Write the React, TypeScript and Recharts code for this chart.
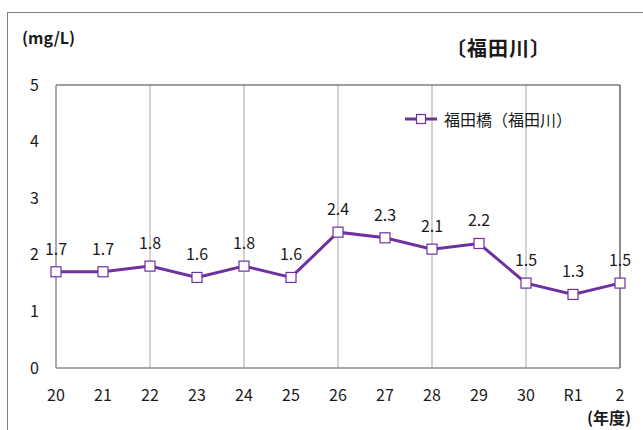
import { LineChart, Line, XAxis, YAxis, ReferenceLine, Legend, LabelList } from 'recharts'

const years = ['20', '21', '22', '23', '24', '25', '26', '27', '28', '29', '30', 'R1', '2']
const values = [1.7, 1.7, 1.8, 1.6, 1.8, 1.6, 2.4, 2.3, 2.1, 2.2, 1.5, 1.3, 1.5]
const yTicks = [0, 1, 2, 3, 4, 5]
const gridYears = ['22', '24', '26', '28', '30']
const seriesName = '福田橋（福田川）'

const data = years.map((year, i) => ({ year, value: values[i] }))

const FONT = "'Noto Sans CJK JP', 'Noto Sans', sans-serif"
const PURPLE = '#7030A0'
const TEXT = '#1a1a1a'

const SquareDot = (props: any) => {
  const { cx, cy } = props
  if (cx == null || cy == null) return null
  return <rect x={cx - 5} y={cy - 5} width={10} height={10} fill="#fff" stroke={PURPLE} strokeWidth={1.2} />
}

const LegendContent = () => (
  <div style={{ display: 'flex', alignItems: 'center', fontFamily: FONT, fontSize: 16, color: TEXT }}>
    <svg width={34} height={14} style={{ marginRight: 6 }}>
      <line x1={1} y1={7} x2={33} y2={7} stroke={PURPLE} strokeWidth={3} />
      <rect x={12.5} y={2.5} width={9} height={9} fill="#fff" stroke={PURPLE} strokeWidth={1.2} />
    </svg>
    <span>{seriesName}</span>
  </div>
)

const App = () => {
  return (
    <div style={{ position: 'absolute', left: 0, top: 0, width: 643, height: 430, overflow: 'hidden', background: '#fff' }}>
      <div style={{ position: 'absolute', left: 7, top: 12, width: 700, height: 500, border: '1px solid #808080' }} />
      <div style={{ position: 'absolute', left: 22, top: 25, fontFamily: FONT, fontSize: 16, fontWeight: 'bold', color: TEXT }}>
        (mg/L)
      </div>
      <div style={{ position: 'absolute', left: 446, top: 33, fontFamily: FONT, fontSize: 20, fontWeight: 'bold', color: TEXT, letterSpacing: 1 }}>
        〔福田川〕
      </div>
      <div style={{ position: 'absolute', left: 587, top: 405, fontFamily: FONT, fontSize: 16, fontWeight: 'bold', color: TEXT }}>
        (年度)
      </div>
      <LineChart
        width={643}
        height={430}
        data={data}
        margin={{ top: 85, right: 23, left: 0, bottom: 32 }}
        style={{ position: 'absolute', left: 0, top: 0 }}
      >
        <XAxis
          dataKey="year"
          height={30}
          tickSize={0}
          tickMargin={22}
          axisLine={{ stroke: '#8c8c8c', strokeWidth: 1.5 }}
          tick={{ fill: TEXT, fontSize: 16, fontFamily: FONT }}
          interval={0}
        />
        <YAxis
          width={56}
          domain={[0, 5]}
          ticks={yTicks}
          tickSize={0}
          tickMargin={17}
          axisLine={{ stroke: '#8c8c8c', strokeWidth: 1.5 }}
          tick={{ fill: TEXT, fontSize: 16, fontFamily: FONT }}
        />
        {gridYears.map((y) => (
          <ReferenceLine key={y} x={y} stroke="#b4b4b4" strokeWidth={1.2} />
        ))}
        <ReferenceLine y={5} stroke="#404040" strokeWidth={1.2} />
        <ReferenceLine x="2" stroke="#404040" strokeWidth={1.2} />
        <Legend
          layout="vertical"
          align="center"
          verticalAlign="middle"
          content={LegendContent}
          wrapperStyle={{ left: 404, top: 107, width: 220 }}
        />
        <Line
          dataKey="value"
          name={seriesName}
          stroke={PURPLE}
          strokeWidth={3}
          dot={<SquareDot />}
          activeDot={false}
          isAnimationActive={false}
        >
          <LabelList dataKey="value" position="top" offset={17} fill={TEXT} fontSize={16} fontFamily={FONT} />
        </Line>
      </LineChart>
    </div>
  )
}

export default App
